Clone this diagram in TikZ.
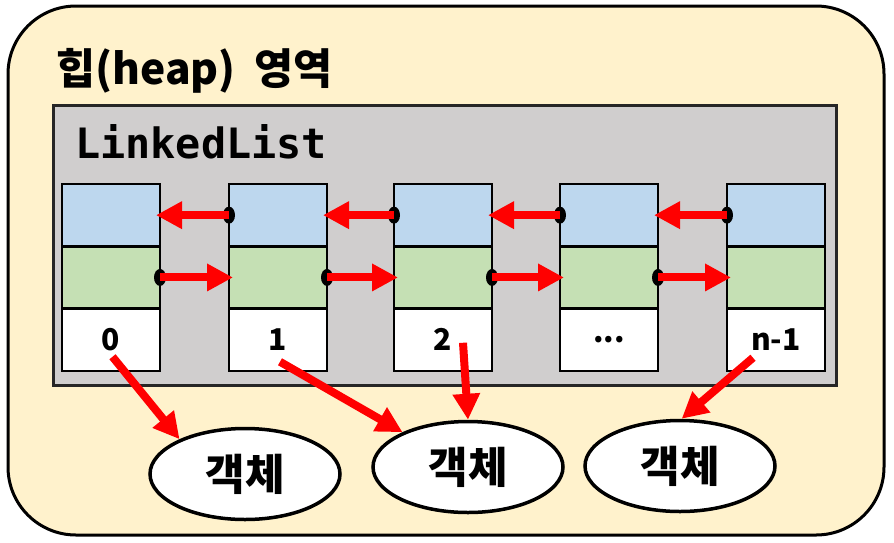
\documentclass[tikz,border=0pt]{standalone}
\usepackage{fontspec}
\newfontfamily\kr{Noto Sans CJK KR}
\newfontfamily\monob{DejaVu Sans Mono}
\usetikzlibrary{arrows.meta,shapes.geometric,calc}
\definecolor{heapbg}{HTML}{FFF2CC}
\definecolor{listbg}{HTML}{D0CECE}
\definecolor{prevc}{HTML}{BDD7EE}
\definecolor{nextc}{HTML}{C5E0B4}
\begin{document}
\begin{tikzpicture}[x=1pt,y=-1pt,
  cell/.style={draw=black, line width=2.5pt, minimum width=98pt, minimum height=62.3pt, inner sep=0pt, outer sep=0pt, anchor=north west},
  pdot/.style={ellipse, fill=black, minimum width=12pt, minimum height=17pt, inner sep=0pt},
  rarrow/.style={draw=red, line width=8pt, -{Triangle[length=26pt,width=26pt]}},
  obj/.style={ellipse, draw=black, fill=white, line width=3.5pt, minimum width=190pt, minimum height=91pt, inner sep=0pt, font=\kr\bfseries\fontsize{43}{46}\selectfont},
  idx/.style={font=\kr\bfseries\fontsize{30}{34}\selectfont, inner sep=0pt}
]
\useasboundingbox (0,0) rectangle (894,542);
\fill[white] (0,0) rectangle (894,542);
\draw[line width=3pt, fill=heapbg, rounded corners=68pt] (8,6) rectangle (884,535);
\node[anchor=base west, inner sep=0pt, font=\kr\bfseries\fontsize{42.5}{46}\selectfont] (title) at (56,84) {힙(heap)\hspace{9pt} 영역};
\draw[line width=3pt, draw=black!85, fill=listbg] (53,105) rectangle (836,385);
\node[anchor=base west, inner sep=0pt, font=\monob\bfseries\fontsize{41.8}{44}\selectfont] (ll) at (75,158) {LinkedList};
\foreach \i/\x/\t in {1/62/0, 2/229/1, 3/394/2, 4/560/{...}, 5/727/n-1} {
  \node[cell, fill=prevc] (b\i) at (\x,184) {};
  \node[cell, fill=nextc] (g\i) at (b\i.south west) {};
  \node[cell, fill=white] (w\i) at (g\i.south west) {};
  \node[idx] (t\i) at (w\i.center) {\t};
}
\foreach \i/\j in {2/1,3/2,4/3,5/4} {
  \node[pdot] (db\i) at (b\i.west) {};
  \node[pdot] (dg\j) at (g\j.east) {};
  \draw[rarrow] (db\i.center) -- ($(b\j.east)+(-4,0)$);
  \draw[rarrow] (dg\j.center) -- ($(g\i.west)+(4,0)$);
}
\node[obj] (e1) at (245,474) {객체};
\node[obj] (e2) at (468,467) {객체};
\node[obj] (e3) at (680,466) {객체};
\draw[rarrow] ($(w1.center)+(1.5,17)$) -- (e1.152);
\draw[rarrow] ($(w2.center)+(2,22)$) -- (e2.152);
\draw[rarrow] ($(w3.center)+(20,3)$) -- (e2.north);
\draw[rarrow] ($(w5.center)+(-23,18)$) -- (e3.88);
\end{tikzpicture}
\end{document}
